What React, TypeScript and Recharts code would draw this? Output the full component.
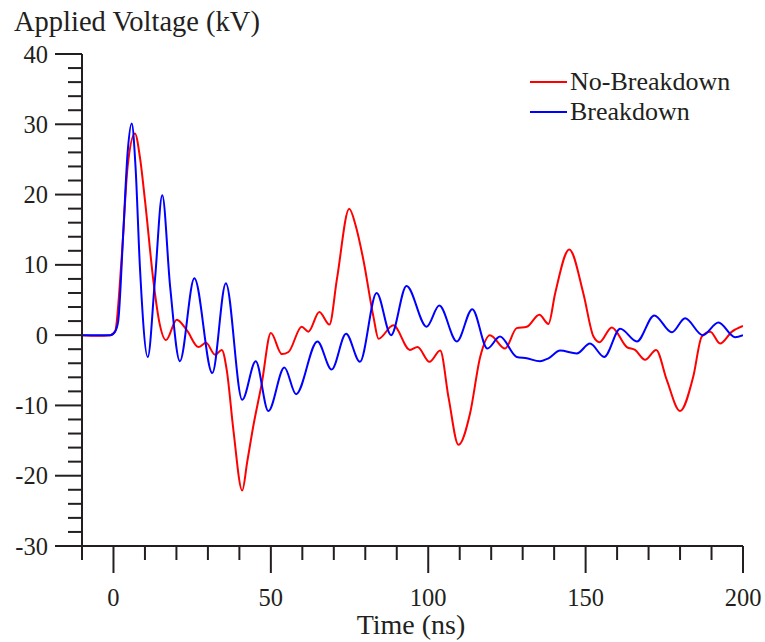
import React from 'react'
import { LineChart, Line, XAxis, YAxis } from 'recharts'

// No-Breakdown trace (time in ns, voltage in kV)
const redTime = [-10, -5, -1, 0.5, 2.6, 4.5, 6.8, 8.5, 10, 12.9, 14.5, 16.7, 20.1, 23.3, 27, 29.4, 32.3, 34.4, 36, 38.1, 40.9, 42.5, 44.4, 47.1, 50, 53.5, 55.6, 59.8, 61.9, 65.4, 68.6, 71, 74.9, 77, 79.4, 82.6, 84.2, 88.9, 94.2, 96.6, 100.4, 103.8, 106.5, 109.6, 113.3, 116.5, 119.6, 124.4, 128.1, 131.3, 135.3, 138.2, 140.3, 144.8, 149.3, 152.5, 154.4, 158.3, 163.1, 165.7, 168.9, 172.4, 175.8, 180, 184.2, 186.9, 189.6, 192.7, 196.5, 200]
const redVolt = [0, -0.1, 0, 0.5, 11, 24, 28.7, 25, 19.2, 6.9, 2, -0.7, 2.2, 0.7, -1.7, -1.1, -2.8, -2.1, -5, -13.5, -22.1, -18, -13, -6.9, 0.3, -2.7, -2.4, 1.2, 0.5, 3.3, 1.5, 8, 18, 15.5, 10.7, 2.6, -0.5, 1.4, -2.1, -1.7, -3.8, -2.2, -9, -15.6, -11.1, -3.1, 0, -1.9, 1.0, 1.2, 2.9, 1.6, 5.9, 12.2, 5.9, -0.2, -1.0, 1.1, -1.7, -2.1, -3.5, -2.1, -6.4, -10.8, -5.9, -0.2, 0.5, -1.2, 0.5, 1.3]

// Breakdown trace
const blueTime = [-10, -1, 0.5, 1.5, 3.1, 4.5, 5.8, 7, 8.4, 10.9, 13.2, 15.5, 18, 21.1, 25.7, 31.4, 35.7, 40.9, 45.2, 49.2, 54.3, 58, 64.8, 69.3, 73.9, 78.3, 83.6, 88.2, 93.1, 99.5, 103.5, 109.1, 114, 118.8, 122.8, 128.1, 131.3, 135.5, 138.2, 141.9, 147.2, 151.4, 155.9, 161, 166.3, 171.8, 177.4, 181.6, 187.2, 192.2, 197.5, 200]
const blueVolt = [0, 0, 0.5, 2, 14.5, 26, 30.1, 24, 9.7, -3.1, 8, 19.9, 6.9, -3.7, 8.1, -5.4, 7.4, -9.2, -3.7, -10.8, -4.6, -8.4, -0.9, -4.9, 0.2, -3.8, 6.0, 0, 7.0, 1.2, 4.2, -0.9, 3.7, -1.9, -0.2, -3.1, -3.3, -3.7, -3.3, -2.2, -2.6, -1.2, -3.1, 0.9, -0.9, 2.8, 0.4, 2.4, 0, 1.8, -0.3, 0]

const xTicks = [-10, 0, 10, 20, 30, 40, 50, 60, 70, 80, 90, 100, 110, 120, 130, 140, 150, 160, 170, 180, 190, 200]
const yTicks = [-30, -28, -26, -24, -22, -20, -18, -16, -14, -12, -10, -8, -6, -4, -2, 0, 2, 4, 6, 8, 10, 12, 14, 16, 18, 20, 22, 24, 26, 28, 30, 32, 34, 36, 38, 40]
const series = [
  { name: 'No-Breakdown', color: '#ff0000' },
  { name: 'Breakdown', color: '#0000ff' },
]

const redData = redTime.map((t, i) => ({ t, v: redVolt[i] }))
const blueData = blueTime.map((t, i) => ({ t, v: blueVolt[i] }))

const ink = '#231f20'
const font = '"Liberation Serif", "Times New Roman", serif'

const YTick = ({ x, y, payload }: any) => {
  const major = payload.value % 10 === 0
  return (
    <g>
      <line x1={x} x2={x - (major ? 27 : 14)} y1={y} y2={y} stroke={ink} strokeWidth={2} />
      {major && (
        <text x={x - 34} y={y} textAnchor="end" dominantBaseline="central" fontSize={24.5} fontFamily={font} fill={ink}>
          {payload.value}
        </text>
      )}
    </g>
  )
}

const XTick = ({ x, y, payload }: any) => {
  const major = payload.value % 50 === 0
  return (
    <g>
      <line x1={x} x2={x} y1={y} y2={y + (major ? 27 : 14)} stroke={ink} strokeWidth={2} />
      {major && (
        <text x={x} y={y + 51} textAnchor="middle" dominantBaseline="central" fontSize={24.5} fontFamily={font} fill={ink}>
          {payload.value}
        </text>
      )}
    </g>
  )
}

export default function App() {
  return (
    <div style={{ position: 'absolute', left: 0, top: 0, width: 765, height: 642, background: '#fff', overflow: 'hidden' }}>
      <LineChart width={765} height={642} margin={{ top: 54, right: 22, bottom: 0, left: 0 }}>
        <XAxis
          dataKey="t"
          type="number"
          domain={[-10, 200]}
          ticks={xTicks}
          interval={0}
          height={96}
          tickSize={0}
          tickMargin={0}
          tickLine={false}
          tick={<XTick />}
          axisLine={{ stroke: ink, strokeWidth: 2 }}
          allowDataOverflow
        />
        <YAxis
          type="number"
          domain={[-30, 40]}
          ticks={yTicks}
          interval={0}
          width={82}
          tickSize={0}
          tickMargin={0}
          tickLine={false}
          tick={<YTick />}
          axisLine={{ stroke: ink, strokeWidth: 2 }}
          allowDataOverflow
        />
        <Line data={redData} dataKey="v" name="No-Breakdown" type="monotone" stroke="#ff0000" strokeWidth={2} dot={false} isAnimationActive={false} />
        <Line data={blueData} dataKey="v" name="Breakdown" type="monotone" stroke="#0000ff" strokeWidth={2} dot={false} isAnimationActive={false} />
      </LineChart>
      <div style={{ position: 'absolute', left: 14, top: 5, fontFamily: font, fontSize: 28.5, color: ink, whiteSpace: 'nowrap', lineHeight: '34px' }}>
        Applied Voltage (kV)
      </div>
      <div style={{ position: 'absolute', left: 411, top: 609, transform: 'translateX(-50%)', fontFamily: font, fontSize: 28, color: ink, whiteSpace: 'nowrap', lineHeight: '31px' }}>
        Time (ns)
      </div>
      <div style={{ position: 'absolute', left: 530, top: 67, fontFamily: font, fontSize: 26, color: ink, lineHeight: '30px' }}>
        {series.map((s) => (
          <div key={s.name} style={{ display: 'flex', alignItems: 'center' }}>
            <span style={{ display: 'inline-block', width: 37, height: 2, background: s.color, marginRight: 3 }} />
            {s.name}
          </div>
        ))}
      </div>
    </div>
  )
}
